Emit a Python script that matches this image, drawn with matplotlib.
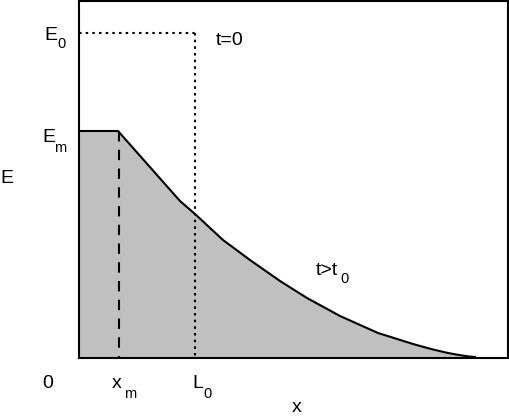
import numpy as np
import matplotlib.pyplot as plt

plt.rcParams['font.family'] = ['Liberation Sans', 'DejaVu Sans']

# profile after t > t0 (x, E), axis units roughly match the picture
x_curve = [0, 39, 101, 116, 144, 171, 201, 228, 261, 299, 334, 352, 369, 380, 390, 396]
E_curve = [227, 227, 157, 144, 118, 98, 77, 60, 42, 25, 14, 9, 5, 3, 1.5, 1]

E0 = 325   # initial level
Em = 227   # plateau level
xm = 40    # plateau end
L0 = 116   # initial length
x_max = 429
E_max = 357

W, H = 509, 416
fig = plt.figure(figsize=(W / 100, H / 100), dpi=100)
ax = fig.add_axes([79 / W, (416 - 358) / H, 429 / W, 357 / H])

ax.fill_between(x_curve, E_curve, 0, color='#c0c0c0', linewidth=0)
ax.plot(x_curve, E_curve, color='black', linewidth=1.5)

# t=0 step
ax.plot([0, L0], [E0, E0], color='black', linewidth=1.5, linestyle=(0, (1.2, 2.0)))
ax.plot([L0, L0], [E0, 0], color='black', linewidth=1.5, linestyle=(0, (1.2, 2.0)))
# x_m marker
ax.plot([xm, xm], [Em, 0], color='black', linewidth=1.5, linestyle=(0, (5, 4)))

ax.set_xlim(0, x_max)
ax.set_ylim(0, E_max)
ax.set_xticks([])
ax.set_yticks([])
for s in ax.spines.values():
    s.set_linewidth(1.5)


def label(px, py, s, size=14):
    fig.text(px / W, 1 - py / H, s, ha='left', va='baseline', fontsize=size)


label(44, 40, 'E')
label(57, 48, '0', 10.5)
label(216, 45, 't=0')
label(42, 142, 'E')
label(54, 152, 'm', 10.5)
label(0, 183, 'E')
label(42, 388, '0')
label(112, 388, 'x')
label(124, 398, 'm', 10.5)
label(192, 388, 'L')
label(203, 398, '0', 10.5)
label(292, 412, 'x')
label(316, 275, 't>t')
label(340, 283, '0', 10.5)

fig.savefig('out.png', dpi=100)
